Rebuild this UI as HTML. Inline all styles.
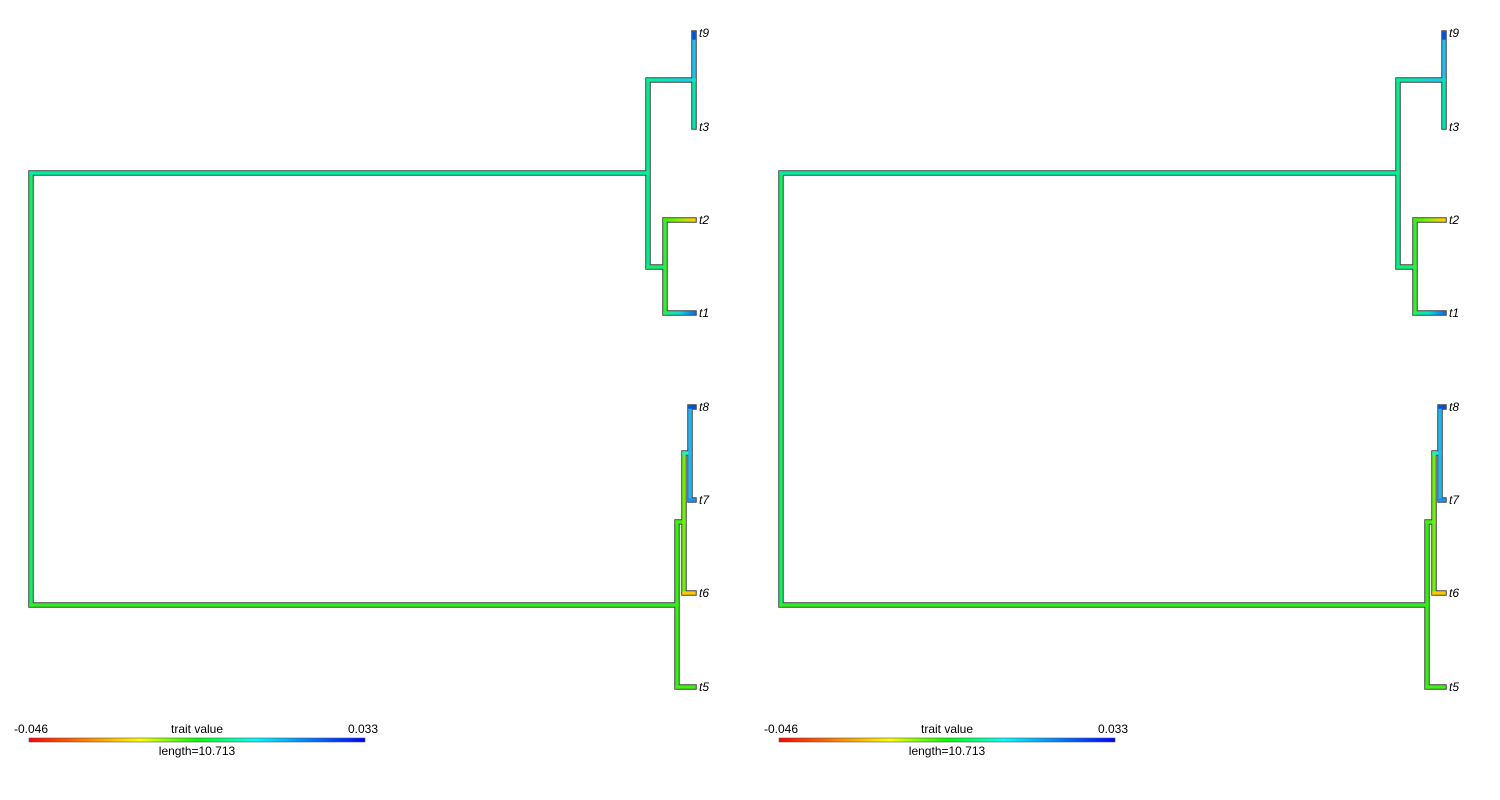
<!DOCTYPE html>
<html><head><meta charset="utf-8"><style>
html,body{margin:0;padding:0;background:#fff;width:1500px;height:800px;overflow:hidden}
svg text{font-family:"Liberation Sans",sans-serif;}
</style></head><body>
<svg width="1500" height="800" xmlns="http://www.w3.org/2000/svg">
<defs>
<linearGradient id="cb" x1="0" x2="1" y1="0" y2="0">
<stop offset="0" stop-color="#ff0000"/><stop offset="0.17" stop-color="#ff8000"/><stop offset="0.33" stop-color="#ffff00"/><stop offset="0.5" stop-color="#00ff00"/><stop offset="0.67" stop-color="#00ffff"/><stop offset="0.83" stop-color="#0080ff"/><stop offset="1" stop-color="#0000ff"/>
</linearGradient>
<linearGradient id="h9" gradientUnits="userSpaceOnUse" x1="648" x2="694" y1="0" y2="0"><stop offset="0" stop-color="#00f0a0"/><stop offset="1" stop-color="#20c8f0"/></linearGradient>
<linearGradient id="t2" gradientUnits="userSpaceOnUse" x1="665" x2="694" y1="0" y2="0"><stop offset="0" stop-color="#40f000"/><stop offset="0.5" stop-color="#90f000"/><stop offset="1" stop-color="#ffd000"/></linearGradient>
<linearGradient id="t1" gradientUnits="userSpaceOnUse" x1="665" x2="694" y1="0" y2="0"><stop offset="0" stop-color="#20f060"/><stop offset="0.5" stop-color="#00e0e0"/><stop offset="1" stop-color="#1070f0"/></linearGradient>
<g id="tree" fill="none" stroke-linecap="square">
<g stroke="#444" stroke-width="5.5">
<path d="M31 173V605M31 173H648M648 80V267M648 80H694M694 33V127M648 267H665M665 220V313M665 220H694M665 313H694M31 605H677M677 522V687M677 687H694M677 522H684M684 453V593M684 593H694M684 453H690M690 407V500M690 407H694M690 500H694"/>
</g>
<g stroke-width="3.5">
<path d="M31 173V605" stroke="#10f060"/>
<path d="M31 173H648" stroke="#00f0a0"/>
<path d="M648 80V267" stroke="#00f090"/>
<path d="M648 80H694" stroke="url(#h9)"/>
<path d="M694 80V33" stroke="#20c0f0"/>
<path d="M694 33V38" stroke="#0050e0"/>
<path d="M694 80V127" stroke="#00e8b0"/>
<path d="M648 267H665" stroke="#10f070"/>
<path d="M665 220V313" stroke="#30f030"/>
<path d="M665 220H694" stroke="url(#t2)"/>
<path d="M665 313H694" stroke="url(#t1)"/>
<path d="M31 605H677" stroke="#30f020"/>
<path d="M677 522V687" stroke="#30f010"/>
<path d="M677 687H694" stroke="#40f010"/>
<path d="M677 522H684" stroke="#40f010"/>
<path d="M684 453V593" stroke="#70f010"/>
<path d="M684 593H694" stroke="#ffc800"/>
<path d="M684 453H690" stroke="#20f0c0"/>
<path d="M690 407V500" stroke="#20b8f0"/>
<path d="M690 407H694" stroke="#0050e0"/>
<path d="M690 500H694" stroke="#2090f0"/>
</g>
<g font-size="12" font-style="italic" fill="#000" stroke="none">
<text x="699" y="37">t9</text><text x="699" y="131">t3</text>
<text x="699" y="224">t2</text><text x="699" y="317">t1</text>
<text x="699" y="411">t8</text><text x="699" y="504">t7</text>
<text x="699" y="597">t6</text><text x="699" y="691">t5</text>
</g>
<rect x="29" y="738" width="336" height="4" fill="url(#cb)" stroke="#555" stroke-width="0.6"/>
<g font-size="12" fill="#000" stroke="none">
<text x="14" y="733">-0.046</text>
<text x="197" y="733" text-anchor="middle">trait value</text>
<text x="378" y="733" text-anchor="end">0.033</text>
<text x="197" y="755" text-anchor="middle">length=10.713</text>
</g>
</g>
</defs>
<use href="#tree"/>
<use href="#tree" transform="translate(750,0)"/>
</svg>
</body></html>
